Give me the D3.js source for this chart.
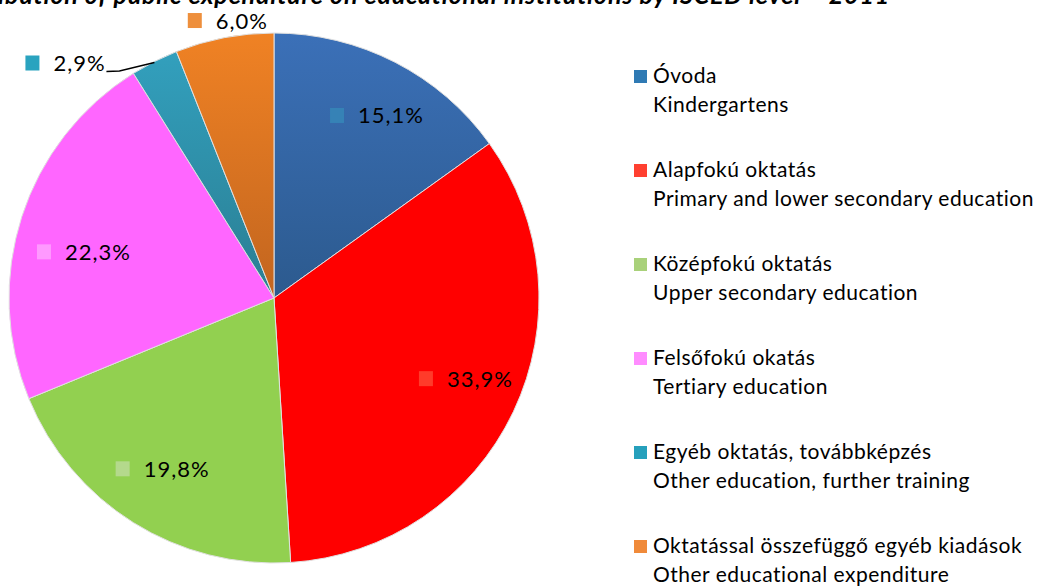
<!DOCTYPE html>
<html>
<head>
<meta charset="utf-8">
<script src="https://cdn.jsdelivr.net/npm/d3@7"></script>
<style>
  body { margin: 0; background: #fff; }
  svg text { font-family: Lato, "Open Sans", sans-serif; fill: #000; }
</style>
</head>
<body>
<svg id="chart" width="1047" height="588"></svg>
<script>
// data
var labels_hu = ["Óvoda", "Alapfokú oktatás", "Középfokú oktatás", "Felsőfokú okatás",
                 "Egyéb oktatás, továbbképzés", "Oktatással összefüggő egyéb kiadások"];
var labels_en = ["Kindergartens", "Primary and lower secondary education", "Upper secondary education",
                 "Tertiary education", "Other education, further training", "Other educational expenditure"];
var shares = [15.1, 33.9, 19.8, 22.3, 2.9, 6.0];
var title_text = "Distribution of public expenditure on educational institutions by ISCED level – 2011";

// colours: slice top / slice middle, label marker, legend marker
var slice_top = ["#3b70b8", "#ff0000", "#92d050", "#ff66ff", "#33a2c0", "#f08224"];
var slice_mid = ["#2c5a8e", "#ff0000", "#92d050", "#ff66ff", "#2a7e93", "#c2651f"];
var marker_col = ["#3682b6", "#ff3b2a", "#b4d98c", "#ff99ff", "#2aa3bf", "#ee8f3c"];
var legend_col = ["#2f7ab4", "#ff4030", "#a9d17a", "#ff8cff", "#26a0bc", "#f08a3a"];

// small nudges so the labels sit where the original put them
var label_nudge = [[7, 3], [3, -8], [-2, -5], [7, 18], [-83, 2], [13, 2]];

var svg = d3.select("#chart");
var cx = 274, cy = 298, radius = 265;

var defs = svg.append("defs");
shares.forEach(function(d, i) {
	var g = defs.append("linearGradient")
		.attr("id", "grad" + i)
		.attr("gradientUnits", "userSpaceOnUse")
		.attr("x1", 0).attr("y1", -radius)
		.attr("x2", 0).attr("y2", radius);
	g.append("stop").attr("offset", "0%").attr("stop-color", slice_top[i]);
	g.append("stop").attr("offset", "50%").attr("stop-color", slice_mid[i]);
	g.append("stop").attr("offset", "100%").attr("stop-color", slice_mid[i]);
});

// title (cut off at top like the original)
svg.append("text")
	.attr("x", 890)
	.attr("y", 4)
	.style("text-anchor", "end")
	.style("font-size", "25px")
	.style("letter-spacing", "0.8px")
	.style("font-style", "italic")
	.style("font-weight", "bold")
	.text(title_text);

var pie = d3.pie().sort(null).value(function(d) { return d; });
var arcs = pie(shares);
var arc = d3.arc().innerRadius(0).outerRadius(radius);
var label_arc = d3.arc().innerRadius(208).outerRadius(208);
var edge_arc = d3.arc().innerRadius(radius).outerRadius(radius);
var outer_arc = d3.arc().innerRadius(284).outerRadius(284);

var pie_g = svg.append("g").attr("transform", `translate(${cx}, ${cy})`);

pie_g.selectAll("path")
	.data(arcs)
	.enter().append("path")
	.attr("d", arc)
	.style("fill", function(d, i) { return "url(#grad" + i + ")"; })
	.style("stroke", "#e0e0e0")
	.style("stroke-width", 1);

// data labels
arcs.forEach(function(d, i) {
	var pos;
	if (d.data > 5 && i != 5) {
		pos = label_arc.centroid(d);
	} else if (i == 5) {
		pos = outer_arc.centroid(d);
	} else {
		// small slice: label pulled left with a leader line
		var e = edge_arc.centroid(d);
		pos = e;
		pie_g.append("path")
			.attr("d", d3.line()([[e[0], e[1] + 1], [e[0] - 35, e[1] + 9.5], [e[0] - 48, e[1] + 10]]))
			.style("fill", "none")
			.style("stroke", "#000")
			.style("stroke-width", 1.3);
	}
	pos = [pos[0] + label_nudge[i][0], pos[1] + label_nudge[i][1]];
	var lbl = pie_g.append("g").attr("transform", `translate(${pos[0]}, ${pos[1]})`);
	lbl.append("rect")
		.attr("x", -46).attr("y", -8)
		.attr("width", 14).attr("height", 15)
		.style("fill", marker_col[i]);
	lbl.append("text")
		.attr("x", -18)
		.attr("y", 7.5)
		.style("font-size", "22px")
		.style("letter-spacing", "1px")
		.text(d3.format(".1f")(d.data).replace(".", ",") + "%");
});

// legend
var legend_y = d3.scaleLinear().domain([0, 5]).range([83, 553]);
var legend = svg.append("g");
labels_hu.forEach(function(name, i) {
	var y = legend_y(i);
	legend.append("rect")
		.attr("x", 634).attr("y", y - 13)
		.attr("width", 13).attr("height", 13)
		.style("fill", legend_col[i]);
	legend.append("text")
		.attr("x", 653).attr("y", y)
		.style("font-size", "21px")
		.style("letter-spacing", "0.5px")
		.text(name);
	legend.append("text")
		.attr("x", 653).attr("y", y + 29)
		.style("font-size", "21px")
		.style("letter-spacing", "0.5px")
		.text(labels_en[i]);
});
</script>
</body>
</html>
